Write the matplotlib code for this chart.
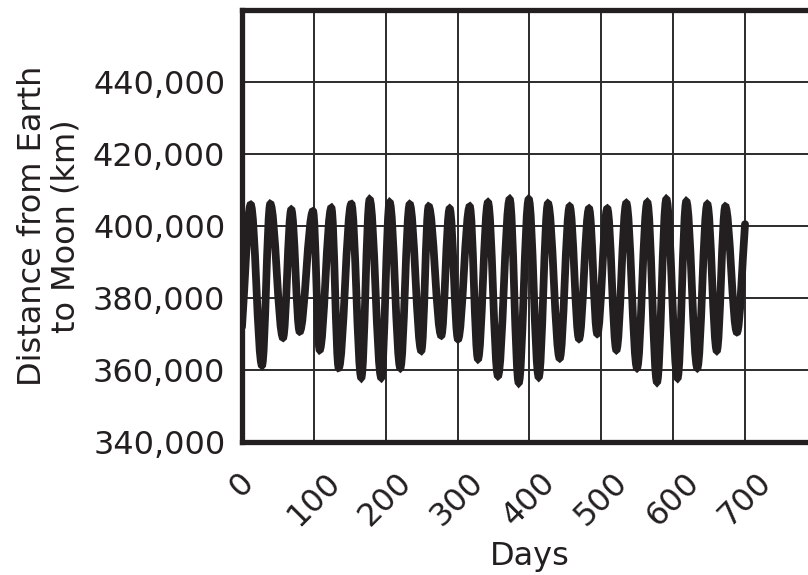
import matplotlib
matplotlib.use("Agg")
import matplotlib.pyplot as plt
from matplotlib.path import Path
from matplotlib.patches import PathPatch
from matplotlib.ticker import FuncFormatter

# turning points of the distance curve (day, km)
peak_days = [12.1, 39.4, 68.6, 98.8, 124.3, 152.1, 177.7, 205.5, 233.4, 259.8,
             289.0, 316.9, 342.3, 372.5, 399.0, 425.8, 456.0, 482.9, 508.3,
             534.8, 564.0, 590.5, 618.3, 647.5, 672.6]
peak_km = [405900, 406100, 404500, 404100, 405000, 406100, 407300, 406500,
           406000, 405400, 404800, 405400, 406500, 407400, 407400, 406200,
           405400, 404800, 404800, 406300, 406500, 407400, 406800, 406000,
           405400]
trough_days = [27.8, 57.1, 80.3, 108.1, 134.6, 166.0, 193.8, 220.3, 249.5,
               277.3, 300.6, 328.4, 356.2, 385.1, 412.9, 442.1, 469.0, 494.4,
               521.0, 549.7, 577.5, 606.1, 633.6, 660.7, 688.8]
trough_km = [361300, 369000, 370700, 365600, 360600, 357900, 357900, 360600,
             365400, 369600, 368600, 363100, 358400, 356500, 358100, 363300,
             368700, 370100, 365600, 360600, 356700, 357800, 360600, 365400,
             370500]
start_day, start_km = 0, 372000
end_day, end_km = 700, 400500

x_ticks = [0, 100, 200, 300, 400, 500, 600, 700]
y_ticks = [340000, 360000, 380000, 400000, 420000, 440000]

ink = "#231f20"

# put the turning points in time order
pts = [(start_day, start_km)]
pts += sorted(list(zip(peak_days, peak_km)) + list(zip(trough_days, trough_km)))
pts.append((end_day, end_km))

# smooth curve: one cubic segment between neighbouring turning points
k = 0.36
verts = [pts[0]]
codes = [Path.MOVETO]
for i in range(len(pts) - 1):
    (x0, y0), (x1, y1) = pts[i], pts[i + 1]
    dx = x1 - x0
    if i == 0:
        c1 = (x0 + dx / 3, y0 + (y1 - y0) / 3)
    else:
        c1 = (x0 + k * dx, y0)
    if i == len(pts) - 2:
        c2 = (x1 - dx / 3, y1 - (y1 - y0) / 3)
    else:
        c2 = (x1 - k * dx, y1)
    verts += [c1, c2, (x1, y1)]
    codes += [Path.CURVE4, Path.CURVE4, Path.CURVE4]

fig = plt.figure(figsize=(8.08, 5.75), dpi=100)
ax = fig.add_axes([0.2995, 0.2313, 0.7115, 0.7513])

ax.add_patch(PathPatch(Path(verts, codes), fill=False, edgecolor=ink,
                       linewidth=5.6, zorder=2, capstyle="round"))

ax.set_xlim(0, 800)
ax.set_ylim(340000, 460000)
ax.set_xticks(x_ticks)
ax.set_yticks(y_ticks)
ax.yaxis.set_major_formatter(FuncFormatter(lambda v, p: f"{int(v):,}"))
ax.grid(True, color="#2b2b2b", linewidth=1.4)

for side in ["left", "top", "bottom"]:
    ax.spines[side].set_linewidth(3.8)
    ax.spines[side].set_color(ink)
ax.spines["right"].set_visible(False)

ax.tick_params(axis="both", length=0, labelsize=23, labelcolor=ink)
ax.tick_params(axis="y", pad=12)
ax.tick_params(axis="x", pad=18)
for lab in ax.get_xticklabels():
    lab.set_rotation(45)

ax.set_xlabel("Days", fontsize=23, color=ink, labelpad=6)
ax.set_ylabel("Distance from Earth\nto Moon (km)", fontsize=23, color=ink,
              labelpad=8, linespacing=1.12)

fig.savefig("out.png", dpi=100)
